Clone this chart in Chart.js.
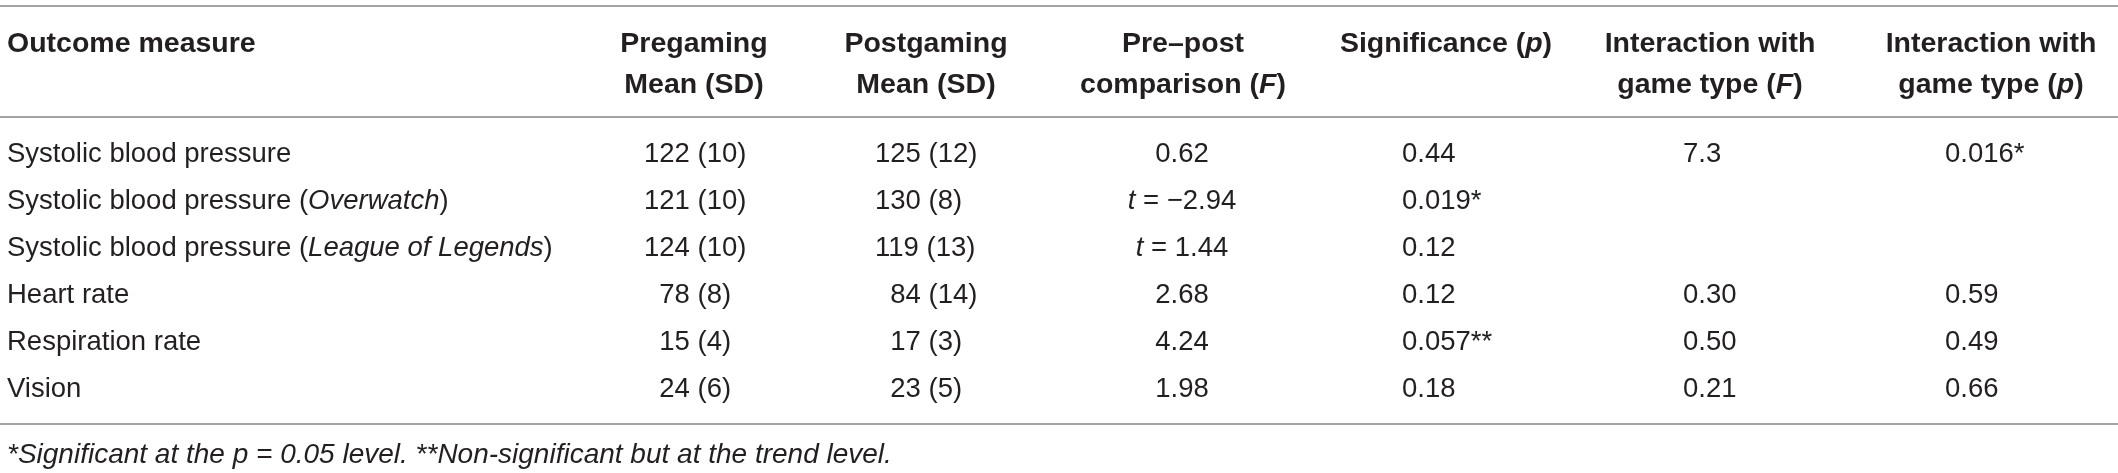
<!DOCTYPE html>
<html>
<head>
<meta charset="utf-8">
<script src="https://cdn.jsdelivr.net/npm/chart.js@4.4.0/dist/chart.umd.min.js"></script>
<style>
    html, body { margin: 0; padding: 0; background: #fff; }
    #wrap { width: 2118px; height: 473px; position: relative; }
</style>
</head>
<body>
<div id="wrap"><canvas id="tableChart"></canvas></div>
<script>
// table content (underscores mark italic runs)
const measures = [
    'Systolic blood pressure',
    'Systolic blood pressure (_Overwatch_)',
    'Systolic blood pressure (_League of Legends_)',
    'Heart rate',
    'Respiration rate',
    'Vision'
];
const preMean = [122, 121, 124, 78, 15, 24];
const preSD = [10, 10, 10, 8, 4, 6];
const postMean = [125, 130, 119, 84, 17, 23];
const postSD = [12, 8, 13, 14, 3, 5];
const prePost = ['0.62', '_t_ = \u22122.94', '_t_ = 1.44', '2.68', '4.24', '1.98'];
const significance = ['0.44', '0.019*', '0.12', '0.12', '0.057**', '0.18'];
const interactionF = ['7.3', null, null, '0.30', '0.50', '0.21'];
const interactionP = ['0.016*', null, null, '0.59', '0.49', '0.66'];
const headers = [
    ['Outcome measure'],
    ['Pregaming', 'Mean (SD)'],
    ['Postgaming', 'Mean (SD)'],
    ['Pre\u2013post', 'comparison (_F_)'],
    ['Significance (_p_)'],
    ['Interaction with', 'game type (_F_)'],
    ['Interaction with', 'game type (_p_)']
];
const footnote = '_*Significant at the p = 0.05 level. **Non-significant but at the trend level._';

document.addEventListener('DOMContentLoaded', () => {
    const W = 2118, H = 473;
    const fontFamily = "'Liberation Sans', Arial, Helvetica, sans-serif";
    const textColor = '#231f20';
    const ruleColor = '#a3a3a3';
    const bodySize = 27.5, headSize = 28.5;

    // row units: body row i sits at y = i
    const rowTop = 152.5, rowStep = 47;
    const toRow = px => (px - rowTop) / rowStep;
    const headRows = [toRow(42), toRow(83)];
    const rules = [toRow(6), toRow(117), toRow(424)];
    const footRow = toRow(453);

    // column anchors: header centre, cell anchor + alignment
    const columns = [
        { head: 7, headAlign: 'left', x: 7, align: 'left' },
        { head: 694, x: 644, align: 'left', pad: 3 },
        { head: 926, x: 875, align: 'left', pad: 3 },
        { head: 1183, x: 1182, align: 'center' },
        { head: 1446, x: 1402, align: 'left' },
        { head: 1710, x: 1683, align: 'left' },
        { head: 1991, x: 1945, align: 'left' }
    ];

    const meanSD = (means, sds) => means.map((m, i) => ({ text: `${m} (${sds[i]})`, digits: String(m).length }));
    const cellTexts = [
        measures.map(t => ({ text: t })),
        meanSD(preMean, preSD),
        meanSD(postMean, postSD),
        prePost.map(t => ({ text: t })),
        significance.map(t => ({ text: t })),
        interactionF.map(t => t === null ? null : { text: t }),
        interactionP.map(t => t === null ? null : { text: t })
    ];

    const datasets = cellTexts.map((cells, c) => {
        const data = [], labels = [];
        cells.forEach((cell, i) => {
            if (!cell) return;
            data.push({ x: columns[c].x, y: i });
            labels.push(cell);
        });
        return { data, cellLabels: labels, column: c, pointRadius: 0, pointHoverRadius: 0, showLine: false };
    });

    const parseRuns = str => str.split('_').map((t, i) => ({ t, italic: i % 2 === 1 })).filter(r => r.t.length);

    const drawRich = (ctx, str, x, y, size, weight, align) => {
        const runs = parseRuns(str);
        const fontOf = r => `${r.italic ? 'italic ' : ''}${weight} ${size}px ${fontFamily}`;
        let total = 0;
        runs.forEach(r => { ctx.font = fontOf(r); r.w = ctx.measureText(r.t).width; total += r.w; });
        let cx = align === 'center' ? x - total / 2 : (align === 'right' ? x - total : x);
        const base = y + size * 0.358;
        runs.forEach(r => {
            ctx.font = fontOf(r);
            ctx.fillText(r.t, cx, base);
            cx += r.w;
        });
    };

    const tablePlugin = {
        id: 'tablePlugin',
        afterDatasetsDraw(chart) {
            const { ctx, chartArea, scales } = chart;
            ctx.save();
            ctx.textAlign = 'left';
            ctx.textBaseline = 'alphabetic';
            ctx.fillStyle = textColor;

            // rules
            ctx.strokeStyle = ruleColor;
            ctx.lineWidth = 2;
            rules.forEach(r => {
                const y = Math.round(scales.y.getPixelForValue(r));
                ctx.beginPath();
                ctx.moveTo(chartArea.left, y);
                ctx.lineTo(chartArea.right, y);
                ctx.stroke();
            });

            // header
            headers.forEach((lines, c) => {
                const col = columns[c];
                const hx = scales.x.getPixelForValue(col.head);
                lines.forEach((line, k) => {
                    drawRich(ctx, line, hx, scales.y.getPixelForValue(headRows[k]), headSize, 'bold', col.headAlign || 'center');
                });
            });

            // body cells
            chart.data.datasets.forEach((ds, d) => {
                const meta = chart.getDatasetMeta(d);
                const col = columns[ds.column];
                meta.data.forEach((pt, j) => {
                    const cell = ds.cellLabels[j];
                    let x = pt.x;
                    if (col.pad && cell.digits) {
                        ctx.font = `normal ${bodySize}px ${fontFamily}`;
                        x += (col.pad - cell.digits) * ctx.measureText('0').width;
                    }
                    drawRich(ctx, cell.text, x, pt.y, bodySize, 'normal', col.align);
                });
            });

            // footnote
            drawRich(ctx, footnote, scales.x.getPixelForValue(7), scales.y.getPixelForValue(footRow), 28, 'normal', 'left');
            ctx.restore();
        }
    };

    new Chart(document.getElementById('tableChart'), {
        type: 'scatter',
        data: { datasets },
        options: {
            responsive: true,
            maintainAspectRatio: false,
            animation: false,
            events: [],
            layout: { padding: 0 },
            plugins: { legend: { display: false }, tooltip: { enabled: false } },
            scales: {
                x: { type: 'linear', display: false, min: 0, max: W },
                y: { type: 'linear', display: false, reverse: true, min: toRow(0), max: toRow(H) }
            }
        },
        plugins: [tablePlugin]
    });
});
</script>
</body>
</html>
